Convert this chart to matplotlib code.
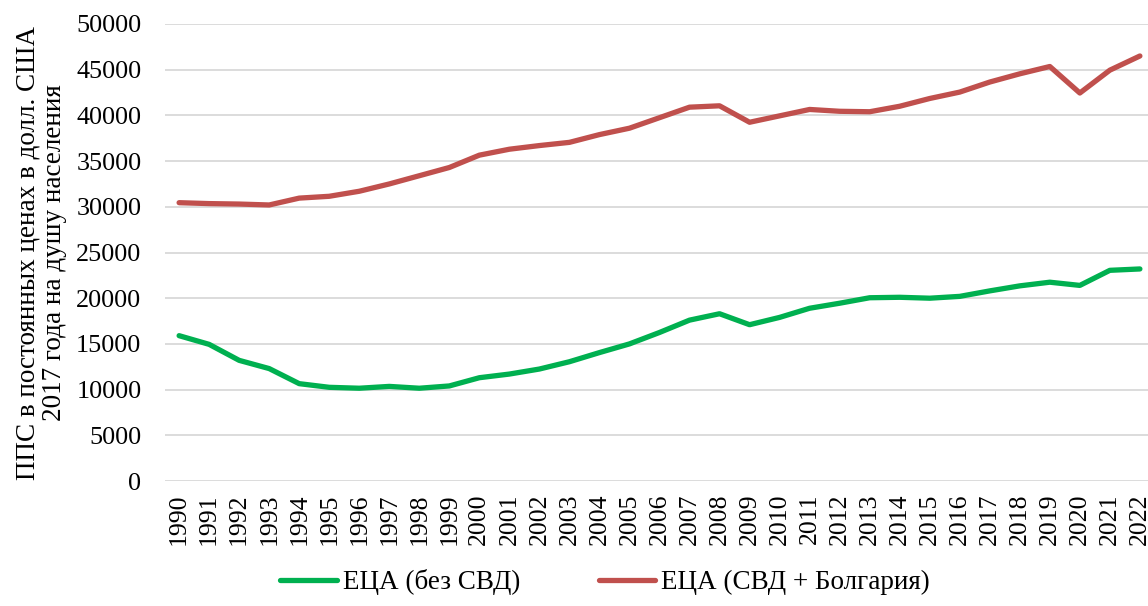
import numpy as np
import matplotlib.pyplot as plt

# ---- data ----
years = list(range(1990, 2023))

eca_no_cis = [15900, 14950, 13200, 12300, 10650, 10250, 10150, 10350, 10150, 10400,
              11300, 11700, 12250, 13050, 14050, 15000, 16250, 17600, 18300, 17100,
              17900, 18900, 19450, 20050, 20100, 20000, 20200, 20800, 21350, 21750,
              21400, 23050, 23200]

eca_cis_bg = [30450, 30350, 30300, 30200, 30950, 31150, 31700, 32500, 33400, 34300,
              35650, 36300, 36700, 37050, 37900, 38600, 39750, 40900, 41050, 39250,
              39950, 40650, 40450, 40400, 41000, 41850, 42550, 43650, 44550, 45350,
              42450, 44950, 46500]

labels = ["ЕЦА (без СВД)", "ЕЦА (СВД + Болгария)"]
colors = ["#00B050", "#C0504D"]

plt.rcParams["font.family"] = ["Liberation Serif", "DejaVu Serif"]

fig = plt.figure(figsize=(11.48, 6.06), dpi=100)
ax = fig.add_axes([165 / 1148, 1 - 481 / 606, 1 - 165 / 1148, (481 - 24) / 606])

x = np.arange(len(years))
ax.plot(x, eca_no_cis, color=colors[0], lw=3.8, label=labels[0], solid_capstyle="round")
ax.plot(x, eca_cis_bg, color=colors[1], lw=3.8, label=labels[1], solid_capstyle="round")

ax.set_ylim(0, 50000)
ax.set_yticks(np.arange(0, 50001, 5000))
ax.set_xlim(-0.47, len(years) - 1 + 0.27)
ax.set_xticks(x)
ax.set_xticklabels([str(y) for y in years], rotation=90)

ax.grid(axis="y", color="#d9d9d9", lw=1.3)
ax.set_axisbelow(True)
for s in ax.spines.values():
    s.set_visible(False)
ax.tick_params(axis="x", length=0, labelsize=18.5, pad=9)
ax.tick_params(axis="y", length=0, labelsize=18.8, pad=17)

ax.set_ylabel("ППС в постоянных ценах в долл. США\n2017 года на душу населения",
              fontsize=19.5, linespacing=1.05)
ax.yaxis.set_label_coords(-0.1, 0.5)

fig.legend(loc="center", bbox_to_anchor=(605 / 1148, 1 - 582 / 606), ncol=2, frameon=False,
           fontsize=19.5, handlelength=2.1, handletextpad=0.2, columnspacing=2.9)

fig.savefig("out.png", dpi=100)
